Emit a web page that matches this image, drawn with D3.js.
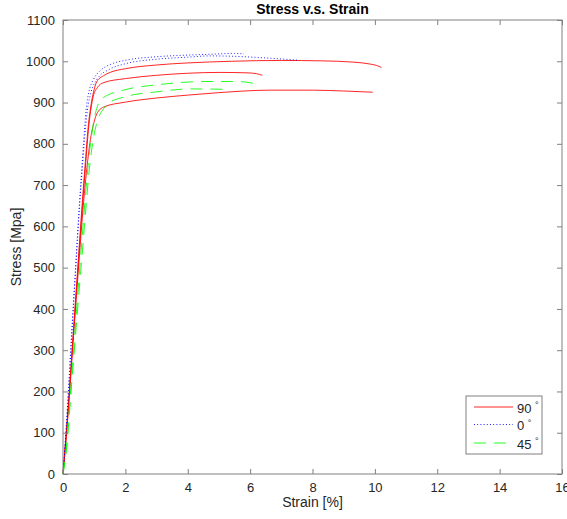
<!DOCTYPE html>
<meta charset="utf-8">
<style>

body {
  margin: 0;
  background: #fff;
}

svg {
  font-family: "Liberation Sans", Helvetica, Arial, sans-serif;
}

.axis text {
  font-size: 13px;
  fill: #262626;
}

.axis line {
  stroke: #808080;
}

</style>
<svg width="567" height="519"></svg>
<script src="https://d3js.org/d3.v7.min.js"></script>
<script>

// [strain %, stress MPa]
var deg90a = [[0, 0], [0.1, 95], [0.4, 420], [0.7, 740], [0.82, 850], [0.92, 904], [1.0, 932], [1.08, 950], [1.3, 965], [1.51, 973], [2, 982], [3, 991], [4, 996], [5.4, 1000], [7, 1002], [8.3, 1001], [9.3, 998], [9.87, 993], [10.05, 990], [10.21, 985]],
    deg90b = [[0, 0], [0.1, 90], [0.4, 410], [0.7, 725], [0.83, 845], [0.97, 915], [1.1, 936], [1.29, 948], [2, 958], [3, 966], [4, 971], [5, 973], [5.9, 972], [6.2, 970], [6.39, 966]],
    deg90c = [[0, 0], [0.1, 85], [0.4, 400], [0.75, 730], [0.9, 820], [0.97, 845], [1.08, 872], [1.3, 889], [2, 901], [3, 911], [4, 918], [5, 924], [6.66, 930], [8, 930], [9, 928], [9.93, 925]];

var deg0a = [[0, 0], [0.1, 110], [0.3, 370], [0.6, 737], [0.76, 895], [0.85, 932], [0.97, 955], [1.19, 977], [1.51, 992], [2.05, 1003], [3, 1011], [4, 1015], [4.7, 1017], [5.5, 1019], [5.8, 1018]],
    deg0b = [[0, 0], [0.1, 105], [0.3, 360], [0.6, 722], [0.78, 880], [0.9, 925], [1.1, 957], [1.5, 981], [2, 994], [3, 1005], [4, 1010], [4.7, 1013], [5.5, 1012], [6.5, 1008], [7.5, 1003]];

var deg45a = [[0, 0], [0.1, 60], [0.3, 260], [0.6, 560], [0.85, 780], [1.0, 860], [1.1, 890], [1.19, 905], [1.3, 912], [1.94, 930], [3.01, 943], [4.62, 951], [5.58, 951], [6, 948], [6.27, 944]],
    deg45b = [[0, 0], [0.1, 50], [0.3, 240], [0.6, 520], [0.9, 775], [1.08, 850], [1.3, 885], [1.4, 895], [1.94, 913], [3.01, 926], [4.08, 933], [5.26, 932]];

var xTicks = [0, 2, 4, 6, 8, 10, 12, 14, 16],
    yTicks = [0, 100, 200, 300, 400, 500, 600, 700, 800, 900, 1000, 1100];

var legendLabels = ["90", "0", "45"];

var series = [
  {data: deg90a, color: "#ff0000", dash: null},
  {data: deg90b, color: "#ff0000", dash: null},
  {data: deg90c, color: "#ff0000", dash: null},
  {data: deg0a, color: "#0000ff", dash: "1,2.2"},
  {data: deg0b, color: "#0000ff", dash: "1,2.2"},
  {data: deg45a, color: "#00ff00", dash: "12,8"},
  {data: deg45b, color: "#00ff00", dash: "12,8"}
];

var legendStyles = [
  {color: "#ff0000", dash: null},
  {color: "#0000ff", dash: "1,2.2"},
  {color: "#00ff00", dash: "12,8"}
];

var svg = d3.select("svg"),
    plotLeft = 63, plotRight = 562, plotTop = 20, plotBottom = 474;

var x = d3.scaleLinear().domain([0, 16]).range([plotLeft, plotRight]),
    y = d3.scaleLinear().domain([0, 1100]).range([plotBottom, plotTop]);

var line = d3.line()
    .x(function(d) { return x(d[0]); })
    .y(function(d) { return y(d[1]); })
    .curve(d3.curveMonotoneX);

svg.selectAll(".curve")
  .data(series)
  .enter().append("path")
    .attr("class", "curve")
    .attr("fill", "none")
    .attr("stroke", function(d) { return d.color; })
    .attr("stroke-width", 1)
    .attr("stroke-opacity", 0.85)
    .attr("stroke-dasharray", function(d) { return d.dash; })
    .attr("d", function(d) { return line(d.data); });

// axes, ticks pointing inward, mirrored on top and right
svg.append("g")
    .attr("class", "axis")
    .attr("transform", "translate(0," + plotBottom + ")")
    .call(d3.axisBottom(x).tickValues(xTicks).tickFormat(d3.format("d")).tickSizeInner(-5).tickSizeOuter(0).tickPadding(9))
    .call(function(g) { g.select(".domain").remove(); });

svg.append("g")
    .attr("class", "axis")
    .attr("transform", "translate(0," + plotTop + ")")
    .call(d3.axisTop(x).tickValues(xTicks).tickSizeInner(-5).tickSizeOuter(0).tickFormat(""))
    .call(function(g) { g.select(".domain").remove(); });

svg.append("g")
    .attr("class", "axis")
    .attr("transform", "translate(" + plotLeft + ",0)")
    .call(d3.axisLeft(y).tickValues(yTicks).tickFormat(d3.format("d")).tickSizeInner(-5).tickSizeOuter(0).tickPadding(8))
    .call(function(g) { g.select(".domain").remove(); });

svg.append("g")
    .attr("class", "axis")
    .attr("transform", "translate(" + plotRight + ",0)")
    .call(d3.axisRight(y).tickValues(yTicks).tickSizeInner(-5).tickSizeOuter(0).tickFormat(""))
    .call(function(g) { g.select(".domain").remove(); });

svg.append("rect")
    .attr("x", plotLeft)
    .attr("y", plotTop)
    .attr("width", plotRight - plotLeft)
    .attr("height", plotBottom - plotTop)
    .attr("fill", "none")
    .attr("stroke", "#808080");

svg.append("text")
    .attr("x", (plotLeft + plotRight) / 2)
    .attr("y", 14)
    .attr("text-anchor", "middle")
    .attr("font-size", 14)
    .attr("font-weight", "bold")
    .attr("fill", "#000")
    .text("Stress v.s. Strain");

svg.append("text")
    .attr("x", (plotLeft + plotRight) / 2)
    .attr("y", 507)
    .attr("text-anchor", "middle")
    .attr("font-size", 14)
    .attr("fill", "#262626")
    .text("Strain [%]");

svg.append("text")
    .attr("transform", "translate(21," + (plotTop + plotBottom) / 2 + ")rotate(-90)")
    .attr("text-anchor", "middle")
    .attr("font-size", 14)
    .attr("fill", "#262626")
    .text("Stress [Mpa]");

// legend
var legend = svg.append("g")
    .attr("transform", "translate(466,396)");

legend.append("rect")
    .attr("width", 76)
    .attr("height", 58)
    .attr("fill", "#fff")
    .attr("stroke", "#808080");

var item = legend.selectAll(".item")
  .data(legendLabels)
  .enter().append("g")
    .attr("class", "item")
    .attr("transform", function(d, i) { return "translate(0," + [11, 28.5, 47][i] + ")"; });

item.append("line")
    .attr("x1", 8)
    .attr("x2", 47)
    .attr("stroke", function(d, i) { return legendStyles[i].color; })
    .attr("stroke-opacity", 0.85)
    .attr("stroke-dasharray", function(d, i) { return legendStyles[i].dash; });

var label = item.append("text")
    .attr("x", 51)
    .attr("dy", "0.45em")
    .attr("font-size", 13)
    .attr("fill", "#262626");

label.append("tspan").text(function(d) { return d + " "; });
label.append("tspan")
    .attr("dy", "-0.5em")
    .attr("font-size", 9)
    .text("°");

</script>
